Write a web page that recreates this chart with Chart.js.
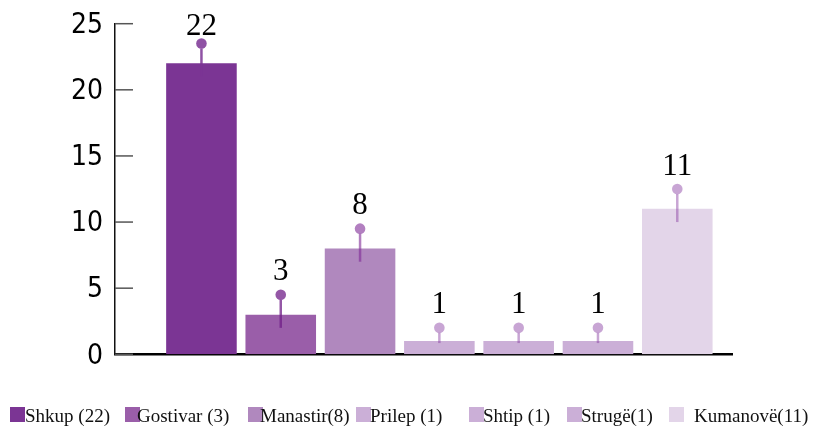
<!DOCTYPE html>
<html>
<head>
<meta charset="utf-8">
<script src="https://cdn.jsdelivr.net/npm/chart.js@4.4.0/dist/chart.umd.min.js"></script>
<style>
  html, body { margin: 0; padding: 0; background: #fff; }
  #wrap { position: relative; width: 813px; height: 426px; }
  #legend { position: absolute; left: 0; top: 0; width: 813px; height: 426px; pointer-events: none; }
  .lg-box { position: absolute; width: 15px; height: 15px; top: 407px; }
  .lg-text { position: absolute; top: 405.6px; font: 19px "Liberation Serif", "Times New Roman", serif; line-height: 19px; color: #111; white-space: pre; }
</style>
</head>
<body>
<div id="wrap">
  <canvas id="barChart" width="813" height="426"></canvas>
  <div id="legend"></div>
</div>
<script>
// Chart data
const categories = ['Shkup', 'Gostivar', 'Manastir', 'Prilep', 'Shtip', 'Strugë', 'Kumanovë'];
const legendLabels = ['Shkup (22)', 'Gostivar (3)', 'Manastir(8)', 'Prilep (1)', 'Shtip (1)', 'Strugë(1)', 'Kumanovë(11)'];
const values = [22, 3, 8, 1, 1, 1, 11];
const errorHigh = [23.5, 4.5, 9.5, 2, 2, 2, 12.5];
const errorLow = [21, 2, 7, 0.85, 0.85, 0.85, 10];
const yTicks = [0, 5, 10, 15, 20, 25];

// Colours
const barColors = ['#7b3594', '#9a5ea9', '#b088be', '#cbafd7', '#cbafd7', '#cbafd7', '#e3d5e9'];
const errorColors = [
    'rgba(123, 52, 148, 0.85)',
    'rgba(112, 31, 136, 0.75)',
    'rgba(127, 42, 150, 0.6)',
    'rgba(133, 56, 160, 0.45)',
    'rgba(133, 56, 160, 0.45)',
    'rgba(133, 56, 160, 0.45)',
    'rgba(133, 56, 160, 0.45)'
];

// Legend layout (box left edge, text left edge)
const legendBoxX = [10, 125, 248, 356, 469, 567, 669];
const legendTextX = [25, 137, 260, 370, 483, 581, 694];

// Error bars with dot on top + value labels
const errorBarPlugin = {
    id: 'errorBars',
    afterDatasetsDraw(chart) {
        const ctx = chart.ctx;
        const yScale = chart.scales.y;
        const meta = chart.getDatasetMeta(0);
        meta.data.forEach((bar, i) => {
            const x = bar.x;
            const yHi = yScale.getPixelForValue(errorHigh[i]);
            const yLo = yScale.getPixelForValue(errorLow[i]);
            ctx.save();
            ctx.strokeStyle = errorColors[i];
            ctx.fillStyle = errorColors[i];
            ctx.lineWidth = 2.5;
            ctx.beginPath();
            ctx.moveTo(x, yLo);
            ctx.lineTo(x, yHi + 5);
            ctx.stroke();
            ctx.beginPath();
            ctx.arc(x, yHi, 5.3, 0, Math.PI * 2);
            ctx.fill();

            ctx.fillStyle = '#000';
            ctx.font = '31px "Liberation Serif", "Times New Roman", serif';
            ctx.textAlign = 'center';
            ctx.textBaseline = 'alphabetic';
            const baseline = Math.max(yHi - 14.5, 35);
            ctx.fillText(String(values[i]), x, baseline);
            ctx.restore();
        });
    }
};

// Inward tick marks on the y axis
const yTickMarks = {
    id: 'yTickMarks',
    afterDraw(chart) {
        const ctx = chart.ctx;
        const yScale = chart.scales.y;
        ctx.save();
        ctx.strokeStyle = '#555';
        ctx.lineWidth = 1.5;
        yScale.ticks.forEach((t, i) => {
            const y = yScale.getPixelForTick(i);
            ctx.beginPath();
            ctx.moveTo(yScale.right, y);
            ctx.lineTo(yScale.right + 18, y);
            ctx.stroke();
        });
        ctx.restore();
    }
};

function buildLegend() {
    const legend = document.getElementById('legend');
    legendLabels.forEach((label, i) => {
        const box = document.createElement('div');
        box.className = 'lg-box';
        box.style.left = legendBoxX[i] + 'px';
        box.style.background = barColors[i];
        legend.appendChild(box);
        const txt = document.createElement('div');
        txt.className = 'lg-text';
        txt.style.left = legendTextX[i] + 'px';
        txt.textContent = label;
        legend.appendChild(txt);
    });
}

function initializeBarChart() {
    const ctx = document.getElementById('barChart').getContext('2d');
    new Chart(ctx, {
        type: 'bar',
        data: {
            datasets: [{
                label: 'Count',
                data: values.map((v, i) => ({ x: i, y: v })),
                backgroundColor: barColors,
                borderWidth: 0,
                categoryPercentage: 1,
                barPercentage: 0.89
            }]
        },
        options: {
            responsive: false,
            animation: false,
            layout: { padding: { top: 23.7, right: 81, bottom: 71.7, left: 0 } },
            plugins: { legend: { display: false }, tooltip: { enabled: false } },
            scales: {
                x: {
                    type: 'linear',
                    min: -1.09,
                    max: 6.69,
                    offset: false,
                    z: 1,
                    afterBuildTicks: s => { s.ticks = categories.map((c, i) => ({ value: i })); },
                    grid: { display: false, drawTicks: false },
                    ticks: { display: false },
                    border: { display: true, color: '#000', width: 2.5 }
                },
                y: {
                    min: 0,
                    max: 25,
                    afterFit: s => { s.width = 115; s.paddingTop = 0; s.paddingBottom = 0; },
                    afterBuildTicks: s => { s.ticks = yTicks.map(v => ({ value: v })); },
                    grid: { display: false, drawTicks: false },
                    border: { display: true, color: '#111', width: 1.5 },
                    ticks: {
                        padding: 12,
                        labelOffset: 2,
                        color: '#000',
                        font: { family: '"DejaVu Sans Condensed", "DejaVu Sans", sans-serif', size: 28 }
                    }
                }
            }
        },
        plugins: [errorBarPlugin, yTickMarks]
    });
}

buildLegend();
initializeBarChart();
</script>
</body>
</html>
